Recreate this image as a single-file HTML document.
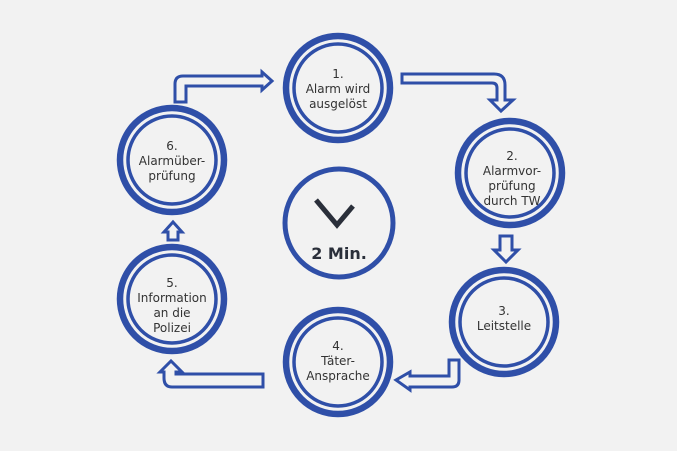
<!DOCTYPE html>
<html><head><meta charset="utf-8"><style>
html,body{margin:0;padding:0;background:#f2f2f2;}
svg{display:block}
text{font-family:"DejaVu Sans","Liberation Sans",sans-serif;font-size:12px;fill:#333;text-anchor:middle}
</style></head><body>
<svg width="677" height="451" viewBox="0 0 677 451">
<rect width="677" height="451" fill="#f2f2f2"/>
<g fill="none" stroke="#2f4fa8">
<g stroke-width="6.5">
<circle cx="338" cy="88" r="52"/>
<circle cx="510" cy="173" r="52"/>
<circle cx="504" cy="322" r="52"/>
<circle cx="338" cy="362" r="52"/>
<circle cx="172" cy="299" r="52"/>
<circle cx="172" cy="160" r="52"/>
</g>
<g stroke-width="3.5">
<circle cx="338" cy="88" r="44"/>
<circle cx="510" cy="173" r="44"/>
<circle cx="504" cy="322" r="44"/>
<circle cx="338" cy="362" r="44"/>
<circle cx="172" cy="299" r="44"/>
<circle cx="172" cy="160" r="44"/>
</g>
<circle cx="339" cy="223" r="54" stroke-width="5"/>
</g>
<g fill="#f2f2f2" stroke="#2f4fa8" stroke-width="3" stroke-linejoin="miter">
<path d="M175,102 L175,84 Q175,76 183,76 L262,76 L262,72 L272,81 L262,90 L262,86 L186,86 L186,102 Z"/>
<path d="M402,74 L494,74 Q505,74 505,85 L505,100 L513,100 L501,111 L490,100 L497,100 L497,88 Q497,83 492,83 L402,83 Z"/>
<path d="M500,236 L512,236 L512,250 L518,250 L506,262 L494,250 L500,250 Z"/>
<path d="M459,360 L459,380 Q459,387 452,387 L410,387 L410,390 L396,380 L410,372 L410,376 L449,376 L449,360 Z"/>
<path d="M263,374 L263,387 L172,387 Q164,387 164,378 L164,372 L160,372 L171,361 L182,372 L176,372 L176,374 Z"/>
<path d="M168,240 L168,232 L164,232 L173,222 L182,232 L178,232 L178,240 Z"/>
</g>
<text x="338" y="78">1.</text>
<text x="338" y="93">Alarm wird</text>
<text x="338" y="108">ausgelöst</text>
<text x="512" y="160">2.</text>
<text x="512" y="175">Alarmvor-</text>
<text x="512" y="190">prüfung</text>
<text x="512" y="205">durch TW</text>
<text x="504" y="315">3.</text>
<text x="504" y="330">Leitstelle</text>
<text x="338" y="350">4.</text>
<text x="338" y="365">Täter-</text>
<text x="338" y="380">Ansprache</text>
<text x="172" y="287">5.</text>
<text x="172" y="302">Information</text>
<text x="172" y="317">an die</text>
<text x="172" y="332">Polizei</text>
<text x="172" y="150">6.</text>
<text x="172" y="165">Alarmüber-</text>
<text x="172" y="180">prüfung</text>
<polyline points="316,200 337,225 353,206" fill="none" stroke="#2a2f3a" stroke-width="5"/>
<text x="339" y="259" style="font-weight:bold;font-size:16px;fill:#2a2f3a">2 Min.</text>
</svg>
</body></html>
